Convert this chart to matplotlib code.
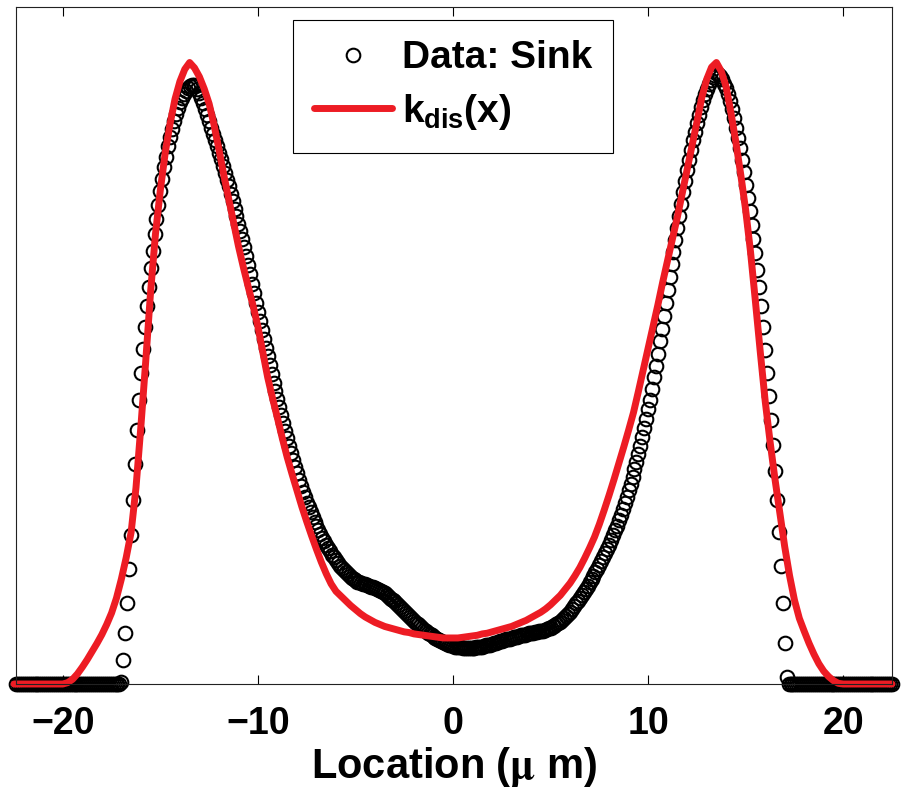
import matplotlib

matplotlib.use("Agg")
import matplotlib.pyplot as plt
import numpy as np

# Sink profile, sampled every 0.1 um starting at -22.4 um (normalised units)
SINK_X0, SINK_DX = -22.4, 0.1
SINK = (
    [0.0] * 54
    + [0.003, 0.035, 0.075, 0.120, 0.170, 0.220, 0.272, 0.325, 0.375, 0.420,
       0.460, 0.495, 0.527, 0.558, 0.587, 0.614, 0.640, 0.664, 0.687, 0.708,
       0.728, 0.746, 0.763, 0.779, 0.794, 0.808, 0.820, 0.832, 0.842, 0.851,
       0.859, 0.866, 0.871, 0.876, 0.880, 0.883, 0.885, 0.885, 0.883, 0.879,
       0.873, 0.866, 0.858, 0.849, 0.840, 0.831, 0.822, 0.813, 0.804, 0.795,
       0.785, 0.775, 0.765, 0.755, 0.745, 0.735, 0.724, 0.713, 0.702, 0.691,
       0.680, 0.669, 0.657, 0.645, 0.632, 0.619, 0.605, 0.591, 0.577, 0.563,
       0.549, 0.536, 0.523, 0.510, 0.497, 0.484, 0.471, 0.458, 0.445, 0.433,
       0.421, 0.409, 0.397, 0.385, 0.374, 0.363, 0.352, 0.341, 0.331, 0.321,
       0.311, 0.302, 0.293, 0.284, 0.276, 0.268, 0.261, 0.254, 0.247, 0.240,
       0.234, 0.228, 0.222, 0.216, 0.211, 0.206, 0.201, 0.196, 0.191, 0.187,
       0.183, 0.179, 0.175, 0.171, 0.168, 0.165, 0.162, 0.159, 0.157, 0.155,
       0.153, 0.151, 0.150, 0.149, 0.148, 0.147, 0.146, 0.145, 0.144, 0.143,
       0.142, 0.141, 0.139, 0.138, 0.136, 0.134, 0.131, 0.129, 0.126, 0.124,
       0.122, 0.119, 0.117, 0.114, 0.111, 0.108, 0.105, 0.102, 0.099, 0.096,
       0.093, 0.090, 0.088, 0.085, 0.083, 0.080, 0.078, 0.076, 0.074, 0.072,
       0.070, 0.068, 0.066, 0.065, 0.063, 0.062, 0.060, 0.059, 0.058, 0.057,
       0.056, 0.055, 0.055, 0.054, 0.054, 0.053, 0.053, 0.053, 0.053, 0.053,
       0.053, 0.053, 0.054, 0.054, 0.055, 0.055, 0.056, 0.057, 0.057, 0.058,
       0.059, 0.060, 0.061, 0.062, 0.063, 0.064, 0.065, 0.066, 0.066, 0.067,
       0.068, 0.069, 0.070, 0.070, 0.071, 0.072, 0.073, 0.073, 0.074, 0.075,
       0.075, 0.076, 0.077, 0.077, 0.078, 0.079, 0.079, 0.080, 0.081, 0.082,
       0.083, 0.085, 0.086, 0.088, 0.090, 0.092, 0.095, 0.098, 0.101, 0.104,
       0.107, 0.111, 0.115, 0.119, 0.123, 0.127, 0.131, 0.136, 0.140, 0.145,
       0.150, 0.155, 0.160, 0.165, 0.170, 0.176, 0.182, 0.188, 0.194, 0.200,
       0.206, 0.213, 0.220, 0.227, 0.234, 0.242, 0.250, 0.258, 0.267, 0.276,
       0.286, 0.296, 0.306, 0.317, 0.328, 0.340, 0.352, 0.365, 0.378, 0.392,
       0.406, 0.420, 0.436, 0.453, 0.470, 0.488, 0.506, 0.525, 0.544, 0.563,
       0.582, 0.601, 0.620, 0.638, 0.656, 0.674, 0.692, 0.709, 0.726, 0.743,
       0.759, 0.774, 0.789, 0.803, 0.816, 0.829, 0.841, 0.852, 0.862, 0.871,
       0.879, 0.886, 0.892, 0.897, 0.900, 0.902, 0.901, 0.898, 0.893, 0.887,
       0.880, 0.871, 0.861, 0.849, 0.836, 0.822, 0.807, 0.791, 0.774, 0.756,
       0.737, 0.718, 0.698, 0.678, 0.658, 0.636, 0.612, 0.586, 0.558, 0.527,
       0.494, 0.460, 0.425, 0.390, 0.353, 0.315, 0.272, 0.225, 0.175, 0.120,
       0.060, 0.010]
    + [0.0] * 54
)

# fitted k_dis(x), sampled every 0.25 um starting at -22.5 um
FIT_X0, FIT_DX = -22.5, 0.25
K_DIS = (
    [0.0] * 11
    + [0.002, 0.007, 0.015, 0.025, 0.036, 0.048, 0.060, 0.073,
       0.088, 0.105, 0.127, 0.155, 0.187, 0.224, 0.290, 0.380,
       0.477, 0.580, 0.665, 0.730, 0.785, 0.828, 0.864, 0.890,
       0.908, 0.918, 0.910, 0.897, 0.879, 0.857, 0.826, 0.790,
       0.752, 0.717, 0.682, 0.647, 0.616, 0.587, 0.559, 0.528,
       0.490, 0.453, 0.422, 0.393, 0.363, 0.335, 0.310, 0.286,
       0.262, 0.240, 0.219, 0.199, 0.180, 0.163, 0.148, 0.137,
       0.130, 0.123, 0.116, 0.110, 0.104, 0.099, 0.095, 0.091,
       0.088, 0.085, 0.083, 0.081, 0.079, 0.077, 0.076, 0.074,
       0.073, 0.072, 0.071, 0.070, 0.069, 0.068, 0.068,
       0.068, 0.068, 0.069, 0.070, 0.071, 0.072, 0.074, 0.075,
       0.077, 0.079, 0.081, 0.083, 0.085, 0.088, 0.091, 0.094,
       0.098, 0.102, 0.106, 0.111, 0.117, 0.124, 0.131, 0.140,
       0.149, 0.160, 0.172, 0.186, 0.201, 0.217, 0.236, 0.257,
       0.279, 0.302, 0.326, 0.350, 0.375, 0.401, 0.432, 0.464,
       0.496, 0.528, 0.560, 0.594, 0.626, 0.658, 0.690, 0.725,
       0.760, 0.795, 0.830, 0.866, 0.893, 0.911, 0.918, 0.905,
       0.882, 0.843, 0.800, 0.752, 0.700, 0.638, 0.565, 0.490,
       0.418, 0.358, 0.303, 0.253, 0.203, 0.160, 0.124, 0.097,
       0.078, 0.060, 0.044, 0.030, 0.019, 0.011, 0.005, 0.001]
    + [0.0] * 11
)

XTICKS = [-20, -10, 0, 10, 20]

assert len(SINK) == 450 and len(K_DIS) == 181

plt.rcParams.update({
    "font.family": "Liberation Sans",
    "font.weight": "bold",
    "axes.labelweight": "bold",
    "mathtext.fontset": "custom",
    "mathtext.rm": "Liberation Sans:bold",
    "mathtext.it": "Liberation Sans:bold",
    "mathtext.bf": "Liberation Sans:bold",
})

sink_x = SINK_X0 + SINK_DX * np.arange(len(SINK))
fit_x = FIT_X0 + FIT_DX * np.arange(len(K_DIS))

fig = plt.figure(figsize=(9.01, 7.88), dpi=100)
ax = fig.add_axes([16 / 901, 1 - 684 / 788, 876 / 901, 677 / 788])

ax.plot(sink_x, SINK, "o", ms=9.8, mfc="none", mec="k", mew=1.5,
        clip_on=False, label="Data: Sink")
ax.plot(fit_x, K_DIS, color="#ed1c24", lw=5, solid_capstyle="round",
        clip_on=False, label=r"$k_{dis}(x)$")

ax.set_xlim(-22.4, 22.5)
ax.set_ylim(0, 1)
ax.set_xticks(XTICKS)
ax.set_yticks([])
ax.tick_params(axis="x", direction="in", top=True, length=6.5, width=0.8,
               labelsize=27, pad=16)
for spine in ax.spines.values():
    spine.set_linewidth(0.8)
    spine.set_color("#222222")

ax.set_xlabel(r"Location ($\mathrm{\mu}$ m)", fontsize=30, labelpad=2,
              math_fontfamily="stix")

leg = ax.legend(loc="upper center", bbox_to_anchor=(0.4989, 0.981),
                borderaxespad=0, prop={"size": 28, "weight": "bold"},
                handlelength=2.0, handletextpad=0.25, borderpad=0.53,
                labelspacing=0.4, fancybox=False, edgecolor="k",
                framealpha=1, numpoints=1)
leg.get_frame().set_linewidth(0.8)

fig.savefig("out.png", dpi=100)
